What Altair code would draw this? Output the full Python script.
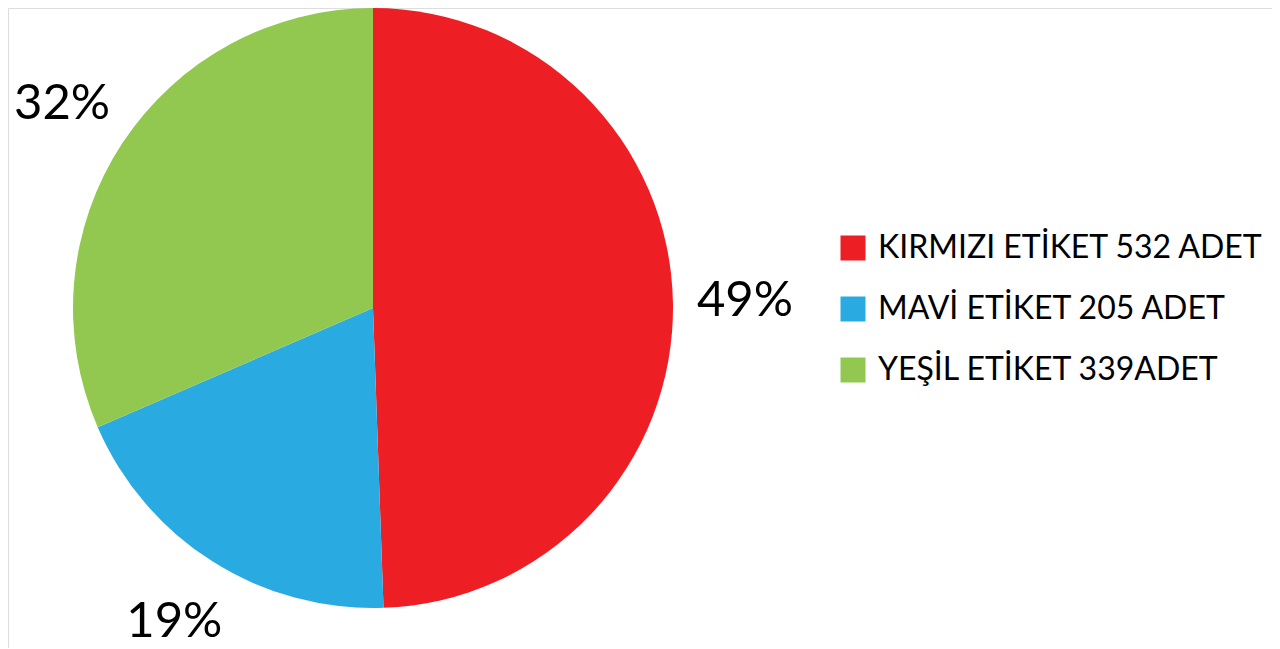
import altair as alt
import pandas as pd

categories = ["KIRMIZI ETİKET 532 ADET", "MAVİ ETİKET 205 ADET", "YEŞİL ETİKET 339ADET"]
values = [532, 205, 339]
order = [1, 2, 3]
colors = ["#ED1F24", "#29ABE2", "#92C850"]

df = pd.DataFrame({"cat": categories, "value": values, "ord": order})

base = alt.Chart(df).transform_joinaggregate(
    total="sum(value)"
).transform_calculate(
    pct="round(datum.value / datum.total * 100) + '%'"
).encode(
    theta=alt.Theta("value:Q", stack=True),
    order=alt.Order("ord:Q"),
)

cx, cy = 365, 300

pie = base.mark_arc(radius=300, strokeWidth=0).encode(
    x=alt.value(cx),
    y=alt.value(cy),
    color=alt.Color(
        "cat:N",
        scale=alt.Scale(domain=categories, range=colors),
        sort=categories,
        legend=alt.Legend(
            title=None,
            orient="none",
            legendX=829,
            legendY=224,
            symbolType="square",
            symbolSize=625,
            symbolStrokeWidth=0,
            symbolOpacity=1,
            labelFont="Lato",
            labelFontSize=32,
            labelColor="#000000",
            labelOffset=9,
            labelLimit=600,
            rowPadding=29,
        ),
    ),
)

labels = base.mark_text(
    radius=372, font="Lato", fontSize=49, color="#000000", align="center", baseline="middle"
).encode(
    x=alt.value(cx),
    y=alt.value(cy),
    text="pct:N",
)

chart = alt.layer(pie, labels).properties(
    width=1264, height=640, padding=0, autosize=alt.AutoSizeParams(type="none")
).configure_view(stroke="transparent", strokeWidth=0).configure(background="#ffffff")

chart.save("out.html", embed_options={"renderer": "svg", "actions": False})
